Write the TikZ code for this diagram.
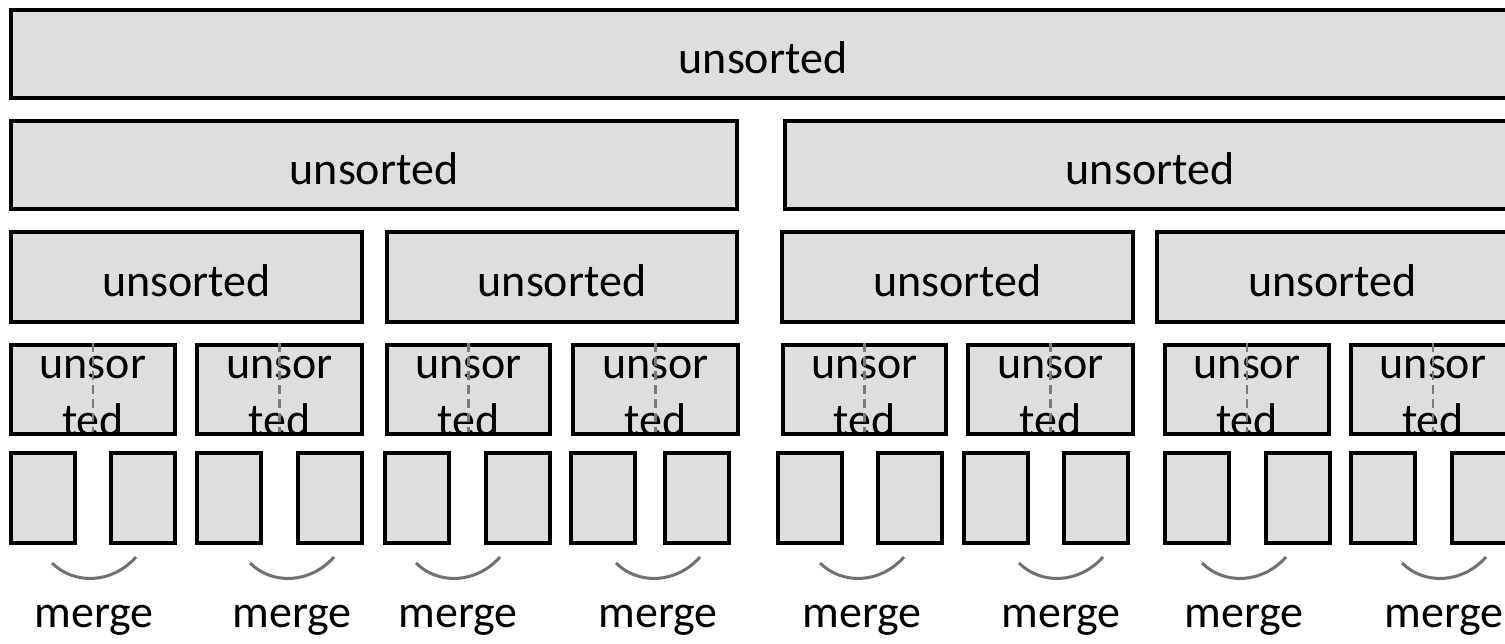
\documentclass[tikz,border=0pt]{standalone}
\usepackage{fontspec}
\setmainfont{Carlito}
\definecolor{boxgray}{HTML}{DEDEDE}
\definecolor{arcgray}{HTML}{707070}
\definecolor{dashgray}{HTML}{7A7A7A}
\begin{document}
\begin{tikzpicture}[x=1pt,y=-1pt,
  box/.style={draw=black, line width=3.6pt, fill=boxgray, rectangle, inner sep=0pt,
    font=\fontsize{46pt}{56pt}\selectfont, text height=40pt, text depth=0pt},
  lbl/.style={inner sep=0pt, anchor=base, font=\fontsize{46pt}{56pt}\selectfont},
  splitline/.style={draw=dashgray, line width=2.5pt, dash pattern=on 9pt off 5pt},
  mergearc/.style={draw=arcgray, line width=3pt}]
\useasboundingbox (0,0) rectangle (1505,644);
\clip (0,0) rectangle (1505,644);
% row 1
\node[box, minimum width=1504pt, minimum height=88pt] (r1) at (763,54) {unsorted};
% row 2
\node[box, minimum width=726pt, minimum height=88pt] (r2a) at (374,165) {unsorted};
\node[box, minimum width=730pt, minimum height=88pt] (r2b) at (1150,165) {unsorted};
% row 3
\node[box, minimum width=351pt, minimum height=90pt] (r3a) at (186.5,277) {unsorted};
\node[box, minimum width=350pt, minimum height=90pt] (r3b) at (562,277) {unsorted};
\node[box, minimum width=351pt, minimum height=90pt] (r3c) at (957.5,277) {unsorted};
\node[box, minimum width=351pt, minimum height=90pt] (r3d) at (1332.5,277) {unsorted};
% row 4
\foreach \i/\c/\w in {1/93/164, 2/279.5/165, 3/468.5/163, 4/655.5/165, 5/864.5/163, 6/1050.5/165, 7/1247/164, 8/1433/164} {
  \node[box, minimum width=\w pt, minimum height=89pt] (r4-\i) at (\c,389.5) {};
  \node[lbl] (u\i) at (\c,378) {unsor};
  \node[lbl] (t\i) at (\c,435) {ted};
  \draw[splitline] (r4-\i.north) -- ([yshift=4pt]r4-\i.south);
}
% row 5
\foreach \i/\l in {1/11, 2/111, 3/197, 4/298, 5/385, 6/486, 7/571, 8/665, 9/778, 10/878, 11/964, 12/1064, 13/1165, 14/1266, 15/1351, 16/1452} {
  \node[box, minimum width=64pt, minimum height=90pt] (r5-\i) at (\l+32,498) {};
}
% merge arcs and labels
\foreach \i/\c in {1/94, 2/292, 3/458, 4/658, 5/862, 6/1061, 7/1244, 8/1444} {
  \coordinate (al\i) at (\c-42,563);
  \coordinate (ar\i) at (\c+42,557);
  \draw[mergearc] (al\i) .. controls (\c-20,585) and (\c+18,584) .. (ar\i);
  \node[lbl] (m\i) at (\c,627) {merge};
}
\end{tikzpicture}
\end{document}
